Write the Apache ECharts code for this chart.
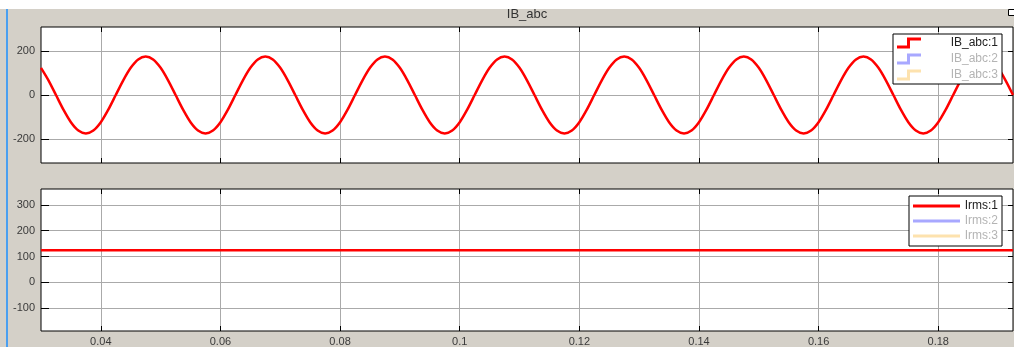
<!DOCTYPE html>
<html>
<head>
<meta charset="utf-8">
<script src="https://cdn.jsdelivr.net/npm/echarts@6/dist/echarts.min.js"></script>
<style>
  html, body { margin: 0; padding: 0; background: #fff; }
  #main { width: 1014px; height: 347px; }
</style>
</head>
<body>
<div id="main"></div>
<script>
// scope data (16 samples per 50 Hz cycle)
var timeSamples = [0.03, 0.03125, 0.0325, 0.03375, 0.035, 0.03625, 0.0375, 0.03875,
  0.04, 0.04125, 0.0425, 0.04375, 0.045, 0.04625, 0.0475, 0.04875,
  0.05, 0.05125, 0.0525, 0.05375, 0.055, 0.05625, 0.0575, 0.05875,
  0.06, 0.06125, 0.0625, 0.06375, 0.065, 0.06625, 0.0675, 0.06875,
  0.07, 0.07125, 0.0725, 0.07375, 0.075, 0.07625, 0.0775, 0.07875,
  0.08, 0.08125, 0.0825, 0.08375, 0.085, 0.08625, 0.0875, 0.08875,
  0.09, 0.09125, 0.0925, 0.09375, 0.095, 0.09625, 0.0975, 0.09875,
  0.1, 0.10125, 0.1025, 0.10375, 0.105, 0.10625, 0.1075, 0.10875,
  0.11, 0.11125, 0.1125, 0.11375, 0.115, 0.11625, 0.1175, 0.11875,
  0.12, 0.12125, 0.1225, 0.12375, 0.125, 0.12625, 0.1275, 0.12875,
  0.13, 0.13125, 0.1325, 0.13375, 0.135, 0.13625, 0.1375, 0.13875,
  0.14, 0.14125, 0.1425, 0.14375, 0.145, 0.14625, 0.1475, 0.14875,
  0.15, 0.15125, 0.1525, 0.15375, 0.155, 0.15625, 0.1575, 0.15875,
  0.16, 0.16125, 0.1625, 0.16375, 0.165, 0.16625, 0.1675, 0.16875,
  0.17, 0.17125, 0.1725, 0.17375, 0.175, 0.17625, 0.1775, 0.17875,
  0.18, 0.18125, 0.1825, 0.18375, 0.185, 0.18625, 0.1875, 0.18875,
  0.19, 0.19125, 0.1925];
var ibA = [124, 67, 0, -67, -124, -162, -175, -162, -124, -67, 0, 67, 124, 162, 175, 162,
  124, 67, 0, -67, -124, -162, -175, -162, -124, -67, 0, 67, 124, 162, 175, 162,
  124, 67, 0, -67, -124, -162, -175, -162, -124, -67, 0, 67, 124, 162, 175, 162,
  124, 67, 0, -67, -124, -162, -175, -162, -124, -67, 0, 67, 124, 162, 175, 162,
  124, 67, 0, -67, -124, -162, -175, -162, -124, -67, 0, 67, 124, 162, 175, 162,
  124, 67, 0, -67, -124, -162, -175, -162, -124, -67, 0, 67, 124, 162, 175, 162,
  124, 67, 0, -67, -124, -162, -175, -162, -124, -67, 0, 67, 124, 162, 175, 162,
  124, 67, 0, -67, -124, -162, -175, -162, -124, -67, 0, 67, 124, 162, 175, 162,
  124, 67, 0];
var rmsTime = [0.03, 0.1925];
var irmsA = [124, 124];

var xTicks = [0.04, 0.06, 0.08, 0.1, 0.12, 0.14, 0.16, 0.18];
var topTicks = [-200, 0, 200];
var bottomTicks = [-100, 0, 100, 200, 300];

var myChart = echarts.init(document.getElementById('main'));

function pairs(xs, ys) {
    return xs.map(function (x, i) { return [x, ys[i]]; });
}

var font = '"Liberation Sans", Arial, sans-serif';
var stepIcon = 'path://M0,8 L10,8 L10,0 L24,0 L24,3 L13,3 L13,11 L0,11 Z';

// main axes (with labels + grid lines) and mirror axes (ticks only)
function xAxis(idx, showLabel, pos) {
    var mirror = pos === 'top';
    return {
        type: 'value', gridIndex: idx, min: 0.03, max: 0.1925, position: pos,
        axisLine: { show: false, onZero: false },
        axisTick: { show: true, inside: true, length: 5, customValues: xTicks,
            lineStyle: { color: '#000' } },
        axisLabel: { show: showLabel && !mirror, customValues: xTicks, margin: 5,
            color: '#3a3a3a', fontSize: 11, fontFamily: font,
            formatter: function (v) { return String(v); } },
        splitLine: { show: !mirror, lineStyle: { color: '#aaa', width: 1 } }
    };
}
function yAxis(idx, mn, mx, ticks, pos) {
    var mirror = pos === 'right';
    return {
        type: 'value', gridIndex: idx, min: mn, max: mx, position: pos,
        axisLine: { show: false, onZero: false },
        axisTick: { show: true, inside: true, length: mirror ? 5 : 8, customValues: ticks,
            lineStyle: { color: '#000' } },
        axisLabel: { show: !mirror, customValues: ticks, margin: 6, color: '#3a3a3a',
            fontSize: 11, fontFamily: font },
        splitLine: { show: !mirror, lineStyle: { color: '#aaa', width: 1 } }
    };
}

myChart.setOption({
    animation: false,
    backgroundColor: '#d4d0c8',
    graphic: [
        { type: 'text', x: 527, y: 14, z: 10,
          style: { text: 'IB_abc', fill: '#333', font: '13px ' + font,
                   textAlign: 'center', textVerticalAlign: 'middle' } },
        { type: 'rect', shape: { x: 0, y: 0, width: 1014, height: 9 }, z: 20,
          style: { fill: '#fff' } },
        { type: 'rect', shape: { x: 6, y: 9, width: 2, height: 338 }, z: 20,
          style: { fill: '#4a9ff0' } },
        { type: 'rect', shape: { x: 1008.5, y: 9.5, width: 8, height: 6 }, z: 20,
          style: { fill: '#fff', stroke: '#000', lineWidth: 1 } }
    ],
    grid: [
        { left: 41, top: 27, right: 1, height: 136, show: true,
          backgroundColor: '#fff', borderColor: '#000', borderWidth: 1 },
        { left: 41, top: 189, right: 1, height: 144, show: true,
          backgroundColor: '#fff', borderColor: '#000', borderWidth: 1 }
    ],
    xAxis: [xAxis(0, false, 'bottom'), xAxis(1, true, 'bottom'),
            xAxis(0, false, 'top'), xAxis(1, false, 'top')],
    yAxis: [yAxis(0, -310, 310, topTicks, 'left'), yAxis(1, -188, 361, bottomTicks, 'left'),
            yAxis(0, -310, 310, topTicks, 'right'), yAxis(1, -188, 361, bottomTicks, 'right')],
    legend: [
        { orient: 'vertical', right: 12, top: 34, padding: [3, 4, 3, 4],
          backgroundColor: '#fff', borderColor: '#000', borderWidth: 1,
          itemWidth: 24, itemHeight: 11, itemGap: 4, selectedMode: false,
          itemStyle: { borderWidth: 0 },
          formatter: '{t|{name}}',
          textStyle: { fontSize: 12, fontFamily: font,
              rich: { t: { width: 72, align: 'right', fontSize: 12, fontFamily: font } } },
          data: [
            { name: 'IB_abc:1', icon: stepIcon, textStyle: { color: '#222' } },
            { name: 'IB_abc:2', icon: stepIcon, textStyle: { color: '#b4b4b4' } },
            { name: 'IB_abc:3', icon: stepIcon, textStyle: { color: '#b4b4b4' } }
          ] },
        { orient: 'vertical', right: 12, top: 196, padding: [4, 4, 4, 4],
          backgroundColor: '#fff', borderColor: '#000', borderWidth: 1,
          itemWidth: 47, itemHeight: 3, itemGap: 3, selectedMode: false,
          itemStyle: { borderWidth: 0 },
          formatter: '{t|{name}}',
          textStyle: { fontSize: 12, fontFamily: font,
              rich: { t: { width: 33, align: 'right', fontSize: 12, fontFamily: font } } },
          data: [
            { name: 'Irms:1', icon: 'rect', textStyle: { color: '#222' } },
            { name: 'Irms:2', icon: 'rect', textStyle: { color: '#b4b4b4' } },
            { name: 'Irms:3', icon: 'rect', textStyle: { color: '#b4b4b4' } }
          ] }
    ],
    series: [
        { name: 'IB_abc:1', type: 'line', xAxisIndex: 0, yAxisIndex: 0, showSymbol: false,
          smooth: 0.3, color: '#ff0000', lineStyle: { color: '#ff0000', width: 2.5 },
          data: pairs(timeSamples, ibA) },
        { name: 'IB_abc:2', type: 'line', xAxisIndex: 0, yAxisIndex: 0, showSymbol: false,
          color: '#a8a8ff', lineStyle: { color: '#a8a8ff' }, data: [] },
        { name: 'IB_abc:3', type: 'line', xAxisIndex: 0, yAxisIndex: 0, showSymbol: false,
          color: '#fde2ae', lineStyle: { color: '#fde2ae' }, data: [] },
        { name: 'Irms:1', type: 'line', xAxisIndex: 1, yAxisIndex: 1, showSymbol: false,
          color: '#ff0000', lineStyle: { color: '#ff0000', width: 2.5 },
          data: pairs(rmsTime, irmsA) },
        { name: 'Irms:2', type: 'line', xAxisIndex: 1, yAxisIndex: 1, showSymbol: false,
          color: '#a8a8ff', lineStyle: { color: '#a8a8ff' }, data: [] },
        { name: 'Irms:3', type: 'line', xAxisIndex: 1, yAxisIndex: 1, showSymbol: false,
          color: '#fde2ae', lineStyle: { color: '#fde2ae' }, data: [] }
    ]
});
</script>
</body>
</html>
